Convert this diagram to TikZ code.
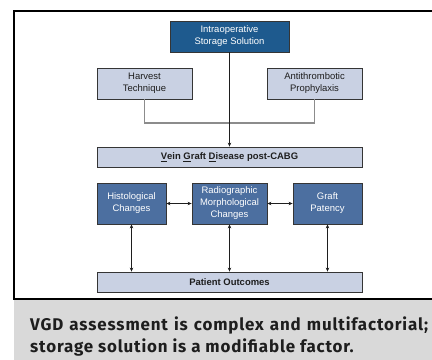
\documentclass[tikz,border=0pt]{standalone}
\usepackage{fontspec}
\setmainfont{Liberation Sans}
\newfontfamily\notefont[LetterSpace=5]{Fira Sans}
\usepackage{tikz}
\usetikzlibrary{positioning, arrows.meta}
\definecolor{vDeep}{HTML}{1E5A8E}
\definecolor{vMid}{HTML}{4C6FA0}
\definecolor{vPale}{HTML}{C9D1E3}
\definecolor{vEdge}{HTML}{353535}
\definecolor{vGrey}{HTML}{8C8C8C}
\definecolor{vBand}{HTML}{D9D9D9}
\definecolor{vInk}{HTML}{1E1E1E}
\tikzset{
  flowbox/.style={draw=vEdge, line width=0.8bp, inner sep=1pt, align=center,
    font=\fontsize{9.5}{12}\selectfont},
  deepbox/.style={flowbox, fill=vDeep, text=white},
  midbox/.style={flowbox, fill=vMid, text=white, minimum height=41bp},
  palebox/.style={flowbox, fill=vPale, text=vInk, minimum width=95bp, minimum height=31bp},
  widebox/.style={palebox, minimum width=265bp, minimum height=20bp,
    font=\fontsize{9.5}{12}\selectfont\bfseries},
}

\begin{document}
\begin{tikzpicture}[x=1bp, y=-1bp, >={Stealth[length=4bp, width=3.5bp]}]
  \useasboundingbox (0,0) rectangle (432,360);
  % frame and caption band
  \fill[vBand] (14,300) rectangle (432,360);
  \draw[line width=2bp] (432,11) -- (14,11) -- (14,299) -- (432,299);

  \node[deepbox, minimum width=119bp, minimum height=31bp] (store) at (229.5,36.5)
    {Intraoperative\\Storage Solution};
  \node[palebox] (harvest) at (144.5,83.5) {Harvest\\Technique};
  \node[palebox] (anti) at (314.5,83.5) {Antithrombotic\\Prophylaxis};
  \node[widebox] (vgd) at (229.5,157)
    {\underline{V}ein \underline{G}raft \underline{D}isease post-CABG};
  \node[midbox, minimum width=69bp] (histo) at (131.5,203.5) {Histological\\Changes};
  \node[midbox, minimum width=75bp] (radio) at (229.5,203.5)
    {Radiographic\\Morphological\\Changes};
  \node[midbox, minimum width=69bp] (patency) at (327.5,203.5) {Graft\\Patency};
  \node[widebox] (outcome) at (229.5,282) {Patient Outcomes};

  \coordinate (join) at (229.5,123);
  \draw[vGrey, line width=1.2bp] (harvest.south) |- (join) -| (anti.south);
  \draw[->, vInk, line width=0.8bp] (store) -- (vgd);
  \draw[<->, vInk, line width=0.8bp] (histo) -- (radio);
  \draw[<->, vInk, line width=0.8bp] (radio) -- (patency);
  \draw[<->, vInk, line width=0.8bp] (histo) -- (histo |- outcome.north);
  \draw[<->, vInk, line width=0.8bp] (radio) -- (outcome);
  \draw[<->, vInk, line width=0.8bp] (patency) -- (patency |- outcome.north);

  \node[anchor=north west, text width=398bp, align=justify, inner sep=0pt,
    font=\notefont\bfseries\fontsize{17}{22}\selectfont, text=vInk] (note) at (30,317)
    {VGD assessment is complex and multifactorial;\linebreak storage solution is a modifiable factor.};
\end{tikzpicture}
\end{document}
